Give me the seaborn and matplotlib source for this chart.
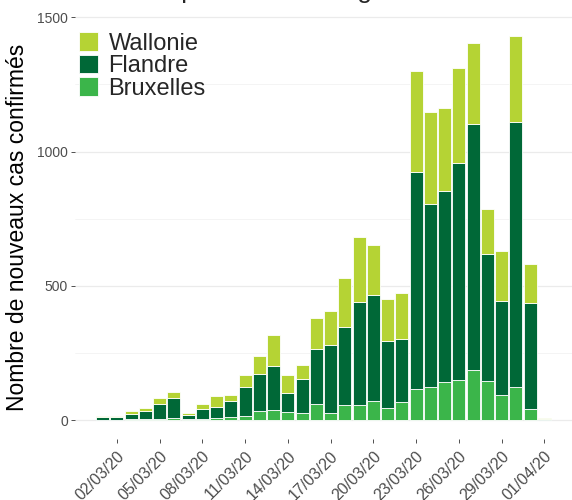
import matplotlib
matplotlib.use("Agg")
import matplotlib.pyplot as plt
import seaborn as sns
import pandas as pd
import numpy as np

# ==========================================
# DONNEES

dates = pd.date_range("2020-03-01", "2020-04-01", freq="D")

bruxelles = [2, 2, 3, 4, 5, 7, 3, 5, 10, 12, 16, 35, 37, 29, 26, 60,
             25, 58, 56, 71, 45, 66, 118, 123, 143, 148, 187, 145, 92, 124, 40, 1]
flandre = [10, 11, 19, 32, 55, 75, 17, 38, 38, 58, 106, 137, 166, 74, 126, 205,
           256, 289, 383, 394, 249, 235, 807, 682, 712, 810, 915, 475, 351, 988, 396, 4]
wallonie = [3, 3, 11, 11, 21, 23, 6, 19, 43, 22, 46, 67, 113, 65, 54, 115,
            126, 182, 243, 186, 158, 174, 375, 343, 309, 352, 303, 168, 186, 319, 147, 2]

regions = ["Wallonie", "Flandre", "Bruxelles"]
colors = ["#b5d334", "#006837", "#3bb54a"]

title = "Cas confirmés par date de diagnostic"
ylabel = "Nombre de nouveaux cas confirmés"

# ==========================================
# FORMAT LONG

day = np.arange(len(dates))
df = pd.concat([
    pd.DataFrame({"day": day, "cases": bruxelles, "region": "Bruxelles"}),
    pd.DataFrame({"day": day, "cases": flandre, "region": "Flandre"}),
    pd.DataFrame({"day": day, "cases": wallonie, "region": "Wallonie"}),
])

# ==========================================
# GRAPHIQUE

sns.set_style("white")
plt.rcParams["font.family"] = ["Liberation Sans", "DejaVu Sans"]

fig = plt.figure(figsize=(5.72, 5.0), dpi=100)
ax = fig.add_axes([0.131, 0.122, 0.869, 0.846])

sns.histplot(
    data=df,
    x="day",
    weights="cases",
    hue="region",
    hue_order=regions,
    palette=colors,
    multiple="stack",
    discrete=True,
    shrink=0.92,
    alpha=1,
    edgecolor="white",
    linewidth=0.6,
    ax=ax,
)

ax.set_xlim(-1.94, 32.94)
ax.set_ylim(-70, 1505)

ax.set_yticks([0, 500, 1000, 1500])
ax.set_yticks([250, 750, 1250], minor=True)
ax.grid(axis="y", which="major", color="#ebebeb", linewidth=0.9)
ax.grid(axis="y", which="minor", color="#f3f3f3", linewidth=0.6)
ax.grid(axis="x", visible=False)
ax.set_axisbelow(True)

tick_pos = day[1::3]
ax.set_xticks(tick_pos)
ax.set_xticklabels([d.strftime("%d/%m/%y") for d in dates[1::3]],
                   rotation=45, ha="right", rotation_mode="anchor",
                   fontsize=11.5, color="#4d4d4d")
ax.tick_params(axis="y", labelsize=10, labelcolor="#4d4d4d")
ax.tick_params(axis="both", which="major", length=3, width=0.6,
               color="#333333", bottom=True, left=True, pad=2)
ax.tick_params(axis="y", which="minor", length=0)
ax.tick_params(axis="x", pad=4)

for s in ax.spines.values():
    s.set_visible(False)

ax.set_xlabel("")
ax.set_ylabel(ylabel, fontsize=16.5, color="black", labelpad=6)

sns.move_legend(
    ax, "upper left",
    bbox_to_anchor=(0.008, 0.962),
    frameon=False, title=None,
    fontsize=17,
    handlelength=0.8, handleheight=0.85,
    labelspacing=0.0, handletextpad=0.45,
    borderaxespad=0, borderpad=0,
)

# titre presque hors du cadre, comme dans l'original
fig.text(0.009, 1.004, title, fontsize=19, ha="left", va="baseline")

plt.savefig("out.png", dpi=100)
